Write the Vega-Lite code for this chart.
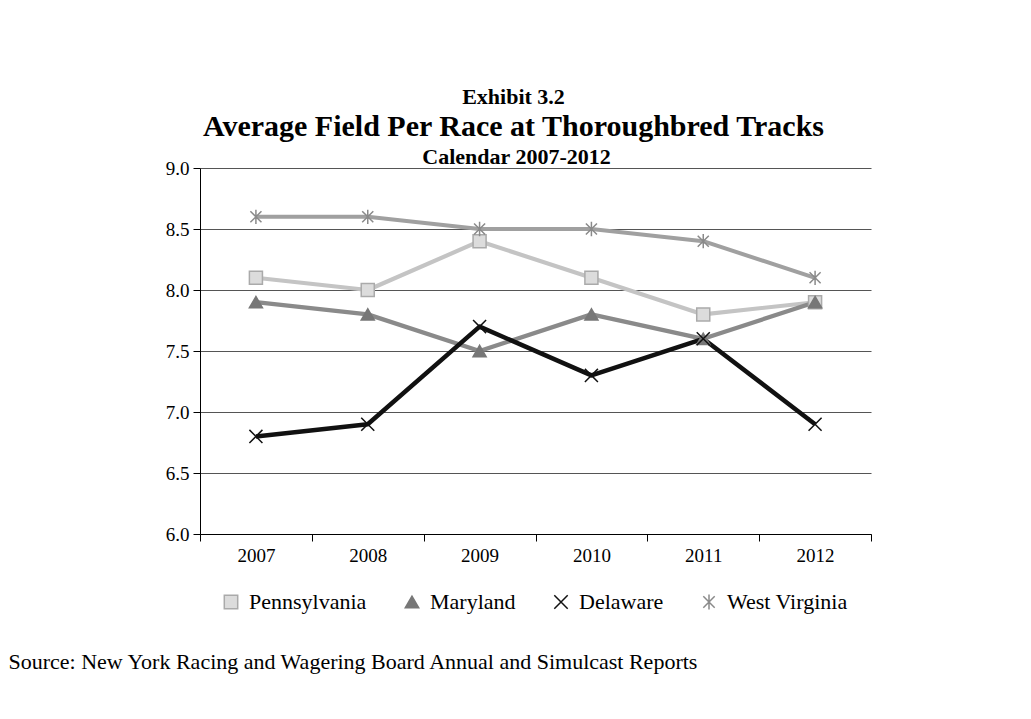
{
  "$schema": "https://vega.github.io/schema/vega-lite/v6.json",
  "autosize": "none",
  "width": 671,
  "height": 366,
  "padding": {"left": 200, "top": 168, "right": 160, "bottom": 185},
  "background": "white",
  "config": {
    "view": {"stroke": null},
    "font": "Liberation Serif",
    "axis": {"labelFont": "Liberation Serif", "titleFont": "Liberation Serif", "labelColor": "black", "titleColor": "black"},
    "legend": {
      "orient": "none",
      "direction": "horizontal",
      "legendX": 20,
      "legendY": 423,
      "labelFont": "Liberation Serif",
      "labelFontSize": 22,
      "labelColor": "black",
      "symbolSize": 180,
      "symbolStrokeWidth": 1.5,
      "columnPadding": 34,
      "labelOffset": 7
    }
  },
  "title": {
    "text": "Exhibit 3.2",
    "subtitle": "Average Field Per Race at Thoroughbred Tracks",
    "anchor": "middle",
    "dx": -22,
    "font": "Liberation Serif",
    "fontSize": 22,
    "fontWeight": "bold",
    "color": "black",
    "subtitleFont": "Liberation Serif",
    "subtitleFontSize": 30,
    "subtitleFontWeight": "bold",
    "subtitleColor": "black",
    "subtitlePadding": 3,
    "offset": 2
  },
  "data": {
    "values": [
      {"year": "2007", "series": "Pennsylvania", "value": 8.1},
      {"year": "2008", "series": "Pennsylvania", "value": 8.0},
      {"year": "2009", "series": "Pennsylvania", "value": 8.4},
      {"year": "2010", "series": "Pennsylvania", "value": 8.1},
      {"year": "2011", "series": "Pennsylvania", "value": 7.8},
      {"year": "2012", "series": "Pennsylvania", "value": 7.9},
      {"year": "2007", "series": "Maryland", "value": 7.9},
      {"year": "2008", "series": "Maryland", "value": 7.8},
      {"year": "2009", "series": "Maryland", "value": 7.5},
      {"year": "2010", "series": "Maryland", "value": 7.8},
      {"year": "2011", "series": "Maryland", "value": 7.6},
      {"year": "2012", "series": "Maryland", "value": 7.9},
      {"year": "2007", "series": "Delaware", "value": 6.8},
      {"year": "2008", "series": "Delaware", "value": 6.9},
      {"year": "2009", "series": "Delaware", "value": 7.7},
      {"year": "2010", "series": "Delaware", "value": 7.3},
      {"year": "2011", "series": "Delaware", "value": 7.6},
      {"year": "2012", "series": "Delaware", "value": 6.9},
      {"year": "2007", "series": "West Virginia", "value": 8.6},
      {"year": "2008", "series": "West Virginia", "value": 8.6},
      {"year": "2009", "series": "West Virginia", "value": 8.5},
      {"year": "2010", "series": "West Virginia", "value": 8.5},
      {"year": "2011", "series": "West Virginia", "value": 8.4},
      {"year": "2012", "series": "West Virginia", "value": 8.1}
    ]
  },
  "resolve": {"axis": {"x": "independent"}},
  "layer": [
    {
      "mark": {"type": "line", "strokeJoin": "round"},
      "encoding": {
        "x": {
          "field": "year", "type": "ordinal",
          "scale": {"paddingInner": 0, "paddingOuter": 0},
          "axis": {
            "orient": "bottom",
            "labelAngle": 0,
            "labelFontSize": 19,
            "labelPadding": 5,
            "tickBand": "extent",
            "tickSize": 7,
            "tickColor": "black",
            "domainColor": "black",
            "grid": false,
            "title": "Source:  New York Racing and Wagering Board Annual and Simulcast Reports",
            "titleFontSize": 22,
            "titleFontWeight": "normal",
            "titleAnchor": "start",
            "titleAlign": "left",
            "titleBaseline": "alphabetic",
            "titleX": -192,
            "titleY": 134
          }
        },
        "y": {
          "field": "value", "type": "quantitative",
          "scale": {"domain": [6, 9], "zero": false, "nice": false},
          "axis": {
            "title": null,
            "values": [6, 6.5, 7, 7.5, 8, 8.5, 9],
            "format": ".1f",
            "labelFontSize": 19,
            "labelPadding": 4,
            "tickSize": 7,
            "tickColor": "black",
            "domainColor": "black",
            "grid": true,
            "gridColor": "#555555",
            "gridWidth": 1.2
          }
        },
        "color": {
          "field": "series", "type": "nominal", "legend": null,
          "scale": {"range": ["#111111", "#8a8a8a", "#c4c4c4", "#a0a0a0"]}
        },
        "strokeWidth": {
          "field": "series", "type": "nominal", "legend": null,
          "scale": {"range": [4.5, 4, 3.5, 4]}
        },
        "detail": {"field": "series"}
      }
    },
    {
      "mark": {"type": "point", "filled": true, "strokeWidth": 1.5, "opacity": 1},
      "encoding": {
        "x": {
          "field": "year", "type": "ordinal",
          "axis": {
            "orient": "top",
            "labels": false,
            "ticks": false,
            "domain": false,
            "grid": false,
            "title": "Calendar 2007-2012",
            "titleFontSize": 22,
            "titleFontWeight": "bold",
            "titleAnchor": "middle",
            "titleBaseline": "alphabetic",
            "titleX": 316,
            "titleY": -5
          }
        },
        "y": {"field": "value", "type": "quantitative"},
        "fill": {
          "field": "series", "type": "nominal", "title": null,
          "scale": {"domain": ["Pennsylvania", "Maryland", "Delaware", "West Virginia"], "range": ["#dcdcdc", "#777777", "#111111", "#a0a0a0"]}
        },
        "stroke": {
          "field": "series", "type": "nominal", "title": null,
          "scale": {"domain": ["Pennsylvania", "Maryland", "Delaware", "West Virginia"], "range": ["#aaaaaa", "#777777", "#111111", "#8a8a8a"]}
        },
        "shape": {
          "field": "series", "type": "nominal", "title": null,
          "scale": {"domain": ["Pennsylvania", "Maryland", "Delaware", "West Virginia"], "range": ["square", "triangle-up", "M-1,-1L1,1M-1,1L1,-1", "M-0.85,-0.85L0.85,0.85M-0.85,0.85L0.85,-0.85M0,-1.1L0,1.1"]}
        },
        "size": {"value": 170}
      }
    }
  ]
}
